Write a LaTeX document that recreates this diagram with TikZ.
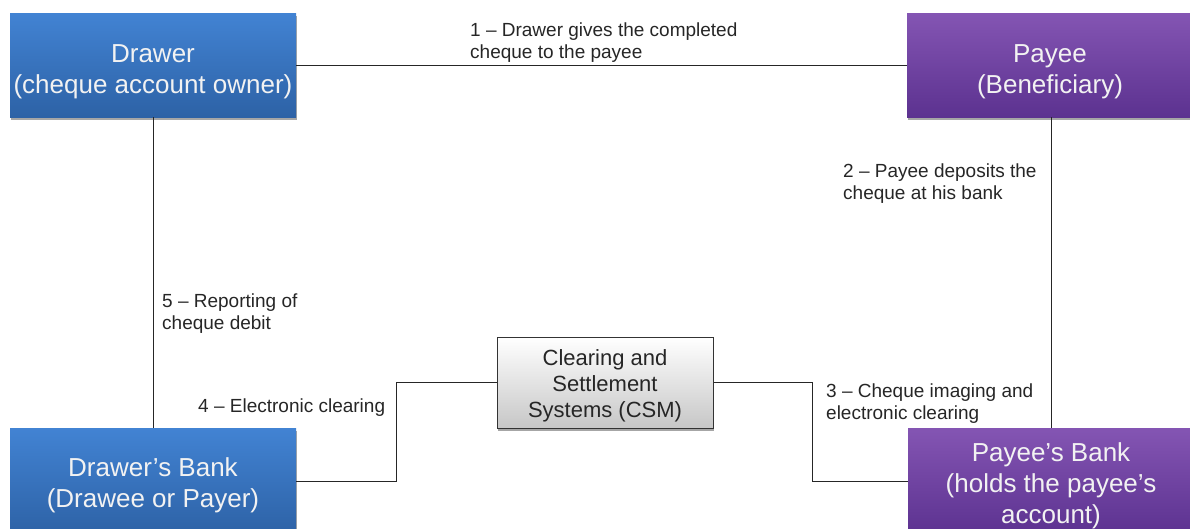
\documentclass[tikz,border=0pt]{standalone}
\usepackage{fontspec}
\setmainfont{Liberation Sans}
\usetikzlibrary{shadows}
\definecolor{txt}{HTML}{262626}
\definecolor{blueT}{HTML}{4283D3}
\definecolor{blueB}{HTML}{2D62A6}
\definecolor{purT}{HTML}{8455B3}
\definecolor{purB}{HTML}{5C3290}
\definecolor{boxtxt}{HTML}{F2F2F2}
\tikzset{
  party/.style={minimum width=286pt, minimum height=104pt, inner sep=0pt,
    align=center, text=boxtxt, font=\fontsize{26}{31}\selectfont,
    drop shadow={shadow xshift=1pt, shadow yshift=-3pt, opacity=0.35, fill=black}},
  bluebox/.style={party, top color=blueT, bottom color=blueB},
  purbox/.style={party, top color=purT, bottom color=purB},
  csmbox/.style={draw=black!80, line width=1pt, minimum width=216pt, minimum height=91pt,
    inner sep=0pt, align=center, text=txt, font=\fontsize{22}{26}\selectfont,
    top color=white, bottom color=black!22,
    drop shadow={shadow xshift=1pt, shadow yshift=-3pt, opacity=0.35, fill=black}},
  lbl/.style={anchor=base west, inner sep=0pt, align=left, text=txt,
    font=\fontsize{19}{22}\selectfont},
  conn/.style={draw=black!85, line width=1pt}
}
\begin{document}
\begin{tikzpicture}[x=1pt,y=-1pt]
\useasboundingbox (0,0) rectangle (1190,528);
\begin{scope}
\clip (0,0) rectangle (1190,528);
\node[bluebox] (drawer) at (153,65) {\rule{0pt}{31pt}Drawer\\(cheque account owner)};
\node[purbox] (payee) at (1050,65) {\rule{0pt}{31pt}Payee\\(Beneficiary)};
\node[bluebox, minimum height=106pt] (dbank) at (153,481) {\rule{0pt}{28pt}Drawer’s Bank\\(Drawee or Payer)};
\node[purbox, minimum height=106pt] (pbank) at (1051,481) {\rule{0pt}{29pt}Payee’s Bank\\(holds the payee’s\\account)};
\node[csmbox] (csm) at (605,382.5) {\rule{0pt}{22pt}Clearing and\\Settlement\\Systems (CSM)};
\coordinate (l1) at (396,382.5);
\coordinate (l2) at (396,481);
\coordinate (r1) at (812,382.5);
\coordinate (r2) at (812,481);
\draw[conn] (drawer.east) -- (payee.west);
\draw[conn] (payee.south -| 1051,0) -- (pbank.north);
\draw[conn] (drawer.south) -- (dbank.north);
\draw[conn] (csm.west) -- (l1) -- (l2) -- (dbank.east);
\draw[conn] (csm.east) -- (r1) -- (r2) -- (pbank.west);
\end{scope}
\node[lbl] (t1) at (470,58) {1 – Drawer gives the completed\\cheque to the payee};
\node[lbl] (t2) at (843,199) {2 – Payee deposits the\\cheque at his bank};
\node[lbl] (t5) at (162,329) {5 – Reporting of\\cheque debit};
\node[lbl] (t4) at (198,412) {4 – Electronic clearing};
\node[lbl] (t3) at (826,419) {3 – Cheque imaging and\\electronic clearing};
\end{tikzpicture}
\end{document}
